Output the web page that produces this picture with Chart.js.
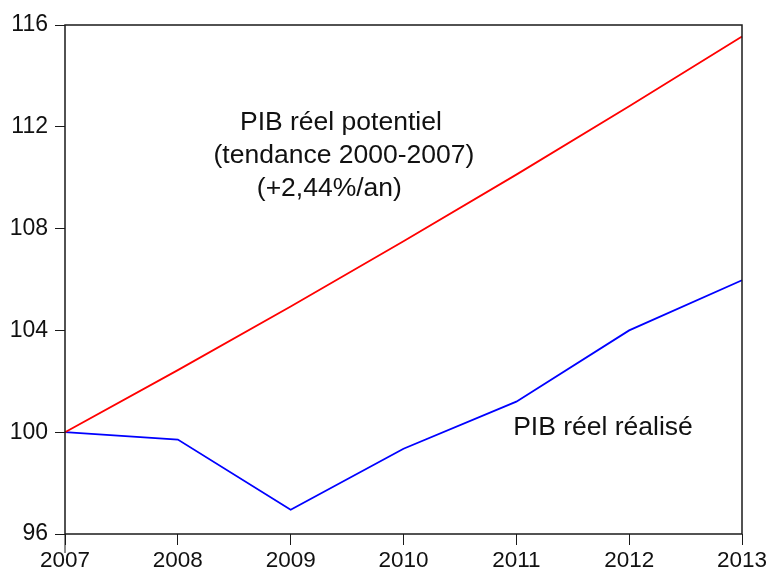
<!DOCTYPE html>
<html>
<head>
<meta charset="utf-8">
<script src="https://cdn.jsdelivr.net/npm/chart.js@4"></script>
<style>
  html, body { margin: 0; padding: 0; background: #fff; }
  #wrap { width: 767px; height: 571px; }
</style>
</head>
<body>
<div id="wrap"><canvas id="pib-chart" width="767" height="571"></canvas></div>
<script>
const years = ["2007", "2008", "2009", "2010", "2011", "2012", "2013"];
// PIB réel potentiel (tendance 2000-2007), base 100 en 2007
const potentiel = [100, 102.44, 104.94, 107.5, 110.12, 112.81, 115.55];
// PIB réel réalisé, base 100 en 2007
const realise = [100, 99.71, 96.95, 99.35, 101.2, 104.0, 105.97];
const yTicks = [96, 100, 104, 108, 112, 116];

// text labels placed in data units (x = year index, y = value)
const notes = [
  { text: "PIB réel potentiel", x: 2.445, y: 111.89 },
  { text: "(tendance 2000-2007)", x: 2.472, y: 110.59 },
  { text: "(+2,44%/an)", x: 2.343, y: 109.29 },
  { text: "PIB réel réalisé", x: 4.768, y: 99.89 },
];

const FONT = "'Liberation Sans', Arial, sans-serif";

const frame = {
  id: "frame",
  afterDatasetsDraw(chart) {
    const { ctx, chartArea: a, scales } = chart;
    ctx.save();
    ctx.strokeStyle = "#1a1a1a";
    ctx.lineWidth = 1.5;
    ctx.strokeRect(a.left, a.top, a.right - a.left, a.bottom - a.top);
    // the first year tick runs a bit longer, down past the others
    ctx.lineWidth = 1;
    ctx.beginPath();
    ctx.moveTo(a.left, a.bottom);
    ctx.lineTo(a.left, a.bottom + 19);
    ctx.stroke();
    ctx.fillStyle = "#111";
    ctx.font = "26.5px " + FONT;
    ctx.textAlign = "center";
    ctx.textBaseline = "alphabetic";
    notes.forEach((n) => {
      const px = scales.x.getPixelForValue(n.x);
      const py = scales.y.getPixelForValue(n.y);
      ctx.fillText(n.text, px, py);
    });
    ctx.restore();
  },
};

new Chart(document.getElementById("pib-chart"), {
  type: "line",
  data: {
    labels: years,
    datasets: [
      {
        label: "PIB réel potentiel",
        data: potentiel,
        borderColor: "#ff0000",
        borderWidth: 1.8,
        pointRadius: 0,
        tension: 0,
      },
      {
        label: "PIB réel réalisé",
        data: realise,
        borderColor: "#0000ff",
        borderWidth: 1.8,
        pointRadius: 0,
        tension: 0,
      },
    ],
  },
  options: {
    responsive: false,
    animation: false,
    layout: { padding: { top: 25, right: 25, left: 0, bottom: 0 } },
    plugins: {
      legend: { display: false },
      tooltip: { enabled: false },
    },
    scales: {
      x: {
        offset: false,
        afterFit: (scale) => {
          scale.height = 37;
          scale.paddingLeft = 0;
          scale.paddingRight = 0;
        },
        grid: {
          drawOnChartArea: false,
          drawTicks: true,
          tickLength: 11,
          color: "#1a1a1a",
        },
        border: { display: false },
        ticks: {
          color: "#111",
          font: { family: FONT, size: 22.5 },
          padding: 2,
          maxRotation: 0,
          autoSkip: false,
        },
      },
      y: {
        min: 96,
        max: 116,
        afterFit: (scale) => {
          scale.width = 65;
        },
        afterBuildTicks: (scale) => {
          scale.ticks = yTicks.map((v) => ({ value: v }));
        },
        grid: {
          drawOnChartArea: false,
          drawTicks: true,
          tickLength: 10,
          color: "#1a1a1a",
        },
        border: { display: false },
        ticks: {
          color: "#111",
          font: { family: FONT, size: 23 },
          padding: 7,
        },
      },
    },
  },
  plugins: [frame],
});
</script>
</body>
</html>
